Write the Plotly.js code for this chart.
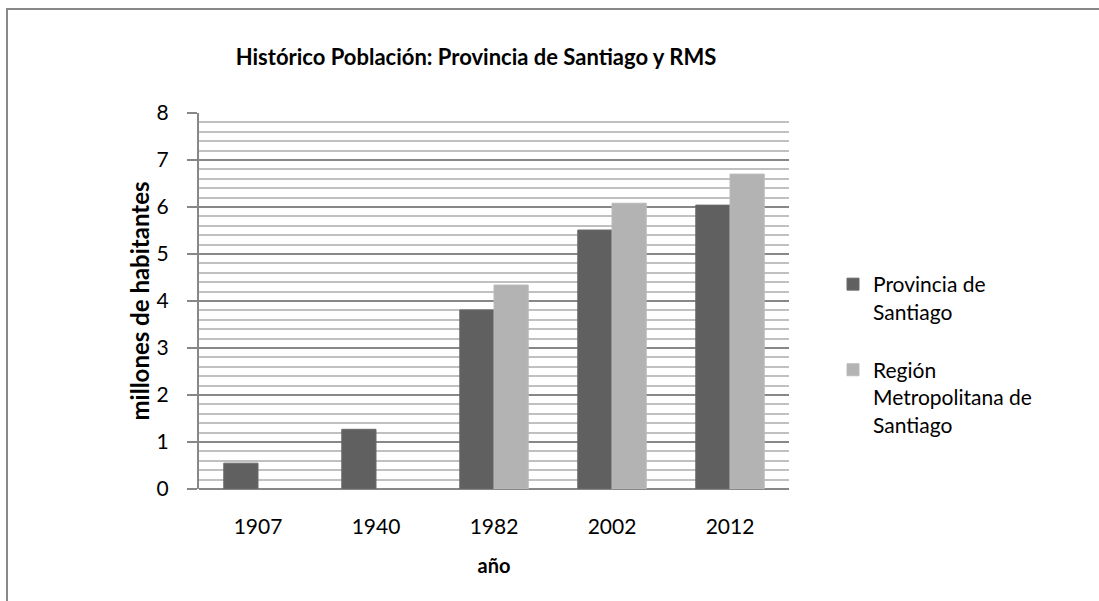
<!DOCTYPE html>
<html>
<head>
<meta charset="utf-8">
<script src="https://cdn.plot.ly/plotly-3.0.1.min.js"></script>
<style>
html,body{margin:0;padding:0;background:#fff;overflow:hidden;}
#chart{width:1099px;height:601px;}
#frame{position:absolute;left:6px;top:8px;width:1200px;height:700px;border:2px solid #888;pointer-events:none;}
</style>
</head>
<body>
<div id="chart"></div>
<div id="frame"></div>
<script>
const years = ['1907', '1940', '1982', '2002', '2012'];
const provincia = [0.55, 1.27, 3.81, 5.51, 6.04];
const region = [null, null, 4.34, 6.08, 6.70];
const seriesNames = ['Provincia de<br>Santiago', 'Región<br>Metropolitana de<br>Santiago'];
const titleText = 'Histórico Población: Provincia de Santiago y RMS';
const yTitle = 'millones de habitantes';
const xTitle = 'año';

const FONT = 'Lato, "Open Sans", sans-serif';

const traces = [
  {type:'bar', x: years, y: provincia, name: seriesNames[0], legendgroup:'a',
   marker:{color:'#606060', line:{color:'#6a6a6a', width:1}}},
  {type:'bar', x: years, y: region, name: seriesNames[1], legendgroup:'b',
   marker:{color:'#b3b3b3', line:{color:'#bababa', width:1}}}
];

const layout = {
  width:1099, height:601,
  margin:{l:199, r:310, t:113, b:112},
  paper_bgcolor:'#fff', plot_bgcolor:'#fff',
  font:{family:FONT, size:21, color:'#000'},
  title:{text:'<b>'+titleText+'</b>', font:{family:FONT, size:22, color:'#000'},
         x:476/1099, xref:'container', xanchor:'center',
         y:1-57/601, yref:'container', yanchor:'middle'},
  barmode:'group', bargap:0.42, bargroupgap:0,
  showlegend:true,
  legend:{x:(833-199)/590, xanchor:'left', y:(489-264)/376, yanchor:'top', valign:'top',
          font:{family:FONT, size:21, color:'#000'}, tracegroupgap:28, bgcolor:'rgba(0,0,0,0)'},
  xaxis:{type:'category', showgrid:false, zeroline:false,
         showline:false, ticks:'', tickfont:{size:21}, ticklabelstandoff:23,
         title:{text:'<b>'+xTitle+'</b>', font:{size:20}, standoff:21}},
  yaxis:{range:[0,8], dtick:1, tick0:0, showgrid:true, gridcolor:'#878787', gridwidth:2,
         zeroline:true, zerolinecolor:'#878787', zerolinewidth:2,
         showline:true, linecolor:'#878787', linewidth:2,
         ticks:'outside', ticklen:10, tickcolor:'#878787', tickwidth:2,
         tickfont:{size:21}, ticklabelstandoff:14,
         minor:{dtick:0.2, tick0:0, showgrid:true, gridcolor:'#c0c0c0', gridwidth:2, ticks:''},
         title:{text:'<b>'+yTitle+'</b>', font:{size:24}, standoff:0}}
};

Plotly.newPlot('chart', traces, layout, {displayModeBar:false, staticPlot:true});
</script>
</body>
</html>
